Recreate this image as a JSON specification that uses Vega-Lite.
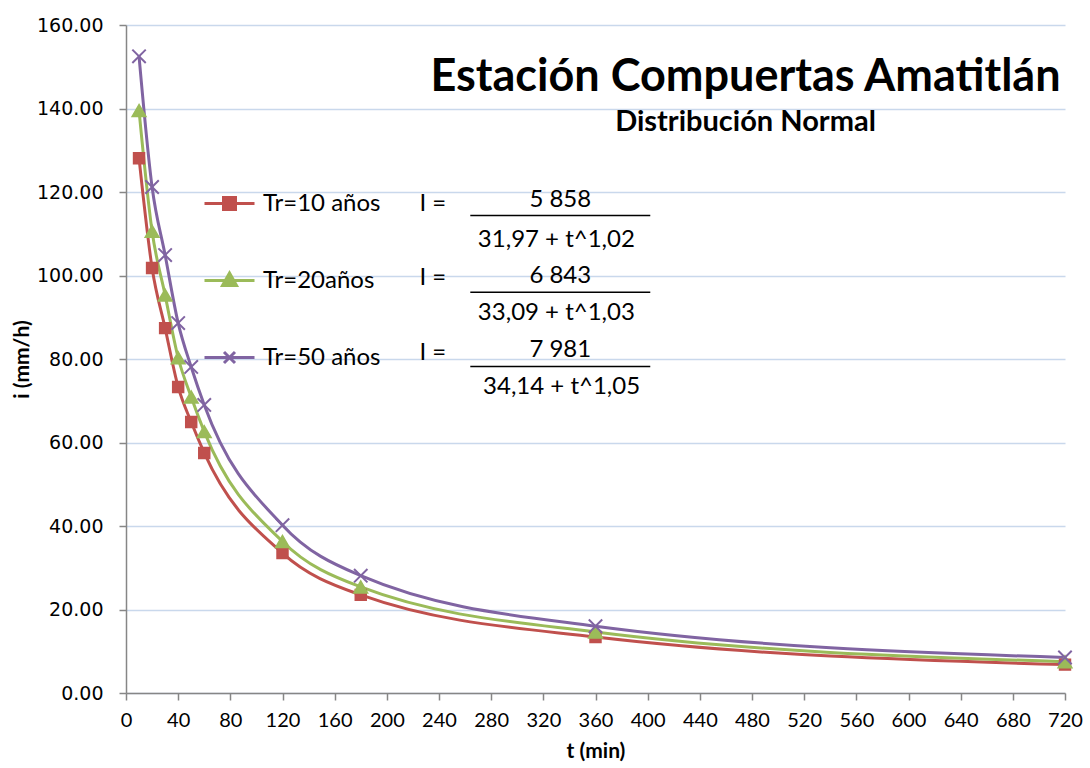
{
  "$schema": "https://vega.github.io/schema/vega-lite/v6.json",
  "width": 939,
  "height": 668,
  "autosize": "none",
  "padding": {"left": 126, "top": 25, "right": 25, "bottom": 75},
  "background": "white",
  "config": {
    "view": {"stroke": null},
    "font": "Lato",
    "axisX": {
      "grid": false,
      "domainColor": "#868686",
      "domainWidth": 1.5,
      "tickColor": "#868686",
      "tickWidth": 1.5,
      "tickSize": 7,
      "labelFont": "Lato",
      "labelFontSize": 20,
      "labelColor": "black",
      "labelPadding": 10,
      "labelFlush": false,
      "titleFont": "Lato",
      "titleFontSize": 21,
      "titleFontWeight": "bold",
      "titleColor": "black",
      "titlePadding": 10
    },
    "axisY": {
      "grid": true,
      "gridColor": "#C9D8EC",
      "gridWidth": 1.5,
      "domainColor": "#868686",
      "domainWidth": 1.5,
      "tickColor": "#868686",
      "tickWidth": 1.5,
      "tickSize": 7,
      "labelFont": "DejaVu Sans",
      "labelFontSize": 19,
      "labelColor": "black",
      "labelPadding": 16,
      "titleFont": "Lato",
      "titleFontSize": 21,
      "titleFontWeight": "bold",
      "titleColor": "black",
      "titlePadding": 4
    }
  },
  "title": {
    "text": "Estación Compuertas Amatitlán",
    "subtitle": "Distribución Normal",
    "anchor": "middle",
    "dx": 150,
    "offset": -121,
    "font": "Lato",
    "fontSize": 45,
    "fontWeight": "bold",
    "color": "black",
    "subtitleFont": "Lato",
    "subtitleFontSize": 29,
    "subtitleFontWeight": "bold",
    "subtitleColor": "black",
    "subtitlePadding": 8
  },
  "data": {
    "values": [
      {"t": 10, "i": 128.1, "serie": "Tr=10 años"},
      {"t": 20, "i": 101.8, "serie": "Tr=10 años"},
      {"t": 30, "i": 87.4, "serie": "Tr=10 años"},
      {"t": 40, "i": 73.3, "serie": "Tr=10 años"},
      {"t": 50, "i": 64.9, "serie": "Tr=10 años"},
      {"t": 60, "i": 57.5, "serie": "Tr=10 años"},
      {"t": 120, "i": 33.5, "serie": "Tr=10 años"},
      {"t": 180, "i": 23.5, "serie": "Tr=10 años"},
      {"t": 360, "i": 13.4, "serie": "Tr=10 años"},
      {"t": 720, "i": 6.8, "serie": "Tr=10 años"},
      {"t": 10, "i": 139.5, "serie": "Tr=20años"},
      {"t": 20, "i": 110.6, "serie": "Tr=20años"},
      {"t": 30, "i": 95.3, "serie": "Tr=20años"},
      {"t": 40, "i": 80.3, "serie": "Tr=20años"},
      {"t": 50, "i": 70.9, "serie": "Tr=20años"},
      {"t": 60, "i": 62.6, "serie": "Tr=20años"},
      {"t": 120, "i": 36.3, "serie": "Tr=20años"},
      {"t": 180, "i": 25.4, "serie": "Tr=20años"},
      {"t": 360, "i": 14.6, "serie": "Tr=20años"},
      {"t": 720, "i": 7.5, "serie": "Tr=20años"},
      {"t": 10, "i": 152.5, "serie": "Tr=50 años"},
      {"t": 20, "i": 121.2, "serie": "Tr=50 años"},
      {"t": 30, "i": 104.9, "serie": "Tr=50 años"},
      {"t": 40, "i": 88.6, "serie": "Tr=50 años"},
      {"t": 50, "i": 78.1, "serie": "Tr=50 años"},
      {"t": 60, "i": 69.0, "serie": "Tr=50 años"},
      {"t": 120, "i": 40.2, "serie": "Tr=50 años"},
      {"t": 180, "i": 28.1, "serie": "Tr=50 años"},
      {"t": 360, "i": 16.0, "serie": "Tr=50 años"},
      {"t": 720, "i": 8.5, "serie": "Tr=50 años"}
    ]
  },
  "layer": [
    {
      "encoding": {
        "x": {
          "field": "t",
          "type": "quantitative",
          "title": "t (min)",
          "scale": {"domain": [0, 720], "nice": false, "zero": true},
          "axis": {"values": [0, 40, 80, 120, 160, 200, 240, 280, 320, 360, 400, 440, 480, 520, 560, 600, 640, 680, 720]}
        },
        "y": {
          "field": "i",
          "type": "quantitative",
          "title": "i (mm/h)",
          "scale": {"domain": [0, 160], "nice": false},
          "axis": {"values": [0, 20, 40, 60, 80, 100, 120, 140, 160], "format": ".2f"}
        }
      },
      "layer": [
        {
          "mark": {"type": "line", "interpolate": "monotone", "strokeWidth": 3},
          "encoding": {
            "color": {
              "field": "serie",
              "type": "nominal",
              "scale": {"domain": ["Tr=10 años", "Tr=20años", "Tr=50 años"], "range": ["#C0504D", "#9BBB59", "#8064A2"]},
              "legend": {
                "orient": "none",
                "legendX": 77,
                "legendY": 152,
                "title": null,
                "labelFont": "Lato",
                "labelFontSize": 24,
                "labelColor": "black",
                "rowPadding": 38,
                "labelOffset": 7,
                "symbolSize": 2500,
                "symbolStrokeWidth": 3,
                "encode": {
                  "symbols": {
                    "update": {
                      "shape": {"signal": "datum.value === 'Tr=10 años' ? 'M-1,0H1M-0.24,-0.24H0.24V0.24H-0.24Z' : (datum.value === 'Tr=20años' ? 'M-1,0H1M0,-0.3L0.28,0.2H-0.28Z' : 'M-1,0H1M-0.22,-0.22L0.22,0.22M-0.22,0.22L0.22,-0.22')"},
                      "fill": {"signal": "datum.value === 'Tr=10 años' ? '#C0504D' : (datum.value === 'Tr=20años' ? '#9BBB59' : 'transparent')"},
                      "stroke": {"signal": "datum.value === 'Tr=10 años' ? '#C0504D' : (datum.value === 'Tr=20años' ? '#9BBB59' : '#8064A2')"},
                      "strokeWidth": {"value": 3},
                      "size": {"value": 2500},
                      "opacity": {"value": 1}
                    }
                  }
                }
              }
            }
          }
        },
        {
          "transform": [{"filter": "datum.serie === 'Tr=10 años'"}],
          "mark": {"type": "point", "shape": "square", "filled": true, "opacity": 1, "color": "#C0504D", "stroke": "#C0504D", "strokeWidth": 1.5, "size": 120}
        },
        {
          "transform": [{"filter": "datum.serie === 'Tr=20años'"}],
          "mark": {"type": "point", "shape": "triangle-up", "filled": true, "opacity": 1, "color": "#9BBB59", "stroke": "#9BBB59", "strokeWidth": 1.5, "size": 190}
        },
        {
          "transform": [{"filter": "datum.serie === 'Tr=50 años'"}],
          "mark": {"type": "point", "shape": "M-1,-1L1,1M-1,1L1,-1", "filled": false, "opacity": 1, "color": "#8064A2", "stroke": "#8064A2", "strokeWidth": 2, "size": 180}
        }
      ]
    },
    {
      "data": {"values": [{}]},
      "mark": {"type": "text", "align": "left", "baseline": "middle", "font": "Lato", "fontSize": 24, "color": "black"},
      "encoding": {"x": {"datum": 225, "type": "quantitative", "title": "t (min)"}, "y": {"datum": 117.2, "type": "quantitative", "title": "i (mm/h)"}, "text": {"value": "I ="}}
    },
    {
      "data": {"values": [{}]},
      "mark": {"type": "text", "align": "left", "baseline": "middle", "font": "Lato", "fontSize": 24, "color": "black"},
      "encoding": {"x": {"datum": 225, "type": "quantitative", "title": "t (min)"}, "y": {"datum": 99.4, "type": "quantitative", "title": "i (mm/h)"}, "text": {"value": "I ="}}
    },
    {
      "data": {"values": [{}]},
      "mark": {"type": "text", "align": "left", "baseline": "middle", "font": "Lato", "fontSize": 24, "color": "black"},
      "encoding": {"x": {"datum": 225, "type": "quantitative", "title": "t (min)"}, "y": {"datum": 81.5, "type": "quantitative", "title": "i (mm/h)"}, "text": {"value": "I ="}}
    },
    {
      "data": {"values": [{}]},
      "mark": {"type": "text", "align": "center", "baseline": "middle", "font": "Lato", "fontSize": 24, "color": "black"},
      "encoding": {"x": {"datum": 333, "type": "quantitative", "title": "t (min)"}, "y": {"datum": 118.0, "type": "quantitative", "title": "i (mm/h)"}, "text": {"value": "5 858"}}
    },
    {
      "data": {"values": [{}]},
      "mark": {"type": "text", "align": "center", "baseline": "middle", "font": "Lato", "fontSize": 24, "color": "black"},
      "encoding": {"x": {"datum": 333, "type": "quantitative", "title": "t (min)"}, "y": {"datum": 100.0, "type": "quantitative", "title": "i (mm/h)"}, "text": {"value": "6 843"}}
    },
    {
      "data": {"values": [{}]},
      "mark": {"type": "text", "align": "center", "baseline": "middle", "font": "Lato", "fontSize": 24, "color": "black"},
      "encoding": {"x": {"datum": 333, "type": "quantitative", "title": "t (min)"}, "y": {"datum": 82.2, "type": "quantitative", "title": "i (mm/h)"}, "text": {"value": "7 981"}}
    },
    {
      "data": {"values": [{}]},
      "mark": {"type": "text", "align": "center", "baseline": "middle", "font": "Lato", "fontSize": 24, "color": "black"},
      "encoding": {"x": {"datum": 330, "type": "quantitative", "title": "t (min)"}, "y": {"datum": 108.6, "type": "quantitative", "title": "i (mm/h)"}, "text": {"value": "31,97 + t^1,02"}}
    },
    {
      "data": {"values": [{}]},
      "mark": {"type": "text", "align": "center", "baseline": "middle", "font": "Lato", "fontSize": 24, "color": "black"},
      "encoding": {"x": {"datum": 330, "type": "quantitative", "title": "t (min)"}, "y": {"datum": 91.0, "type": "quantitative", "title": "i (mm/h)"}, "text": {"value": "33,09 + t^1,03"}}
    },
    {
      "data": {"values": [{}]},
      "mark": {"type": "text", "align": "center", "baseline": "middle", "font": "Lato", "fontSize": 24, "color": "black"},
      "encoding": {"x": {"datum": 334, "type": "quantitative", "title": "t (min)"}, "y": {"datum": 73.2, "type": "quantitative", "title": "i (mm/h)"}, "text": {"value": "34,14 + t^1,05"}}
    },
    {
      "data": {"values": [{}]},
      "mark": {"type": "rule", "color": "black", "strokeWidth": 1.5},
      "encoding": {"x": {"datum": 264, "type": "quantitative", "title": "t (min)"}, "x2": {"datum": 402}, "y": {"datum": 114.4, "type": "quantitative", "title": "i (mm/h)"}}
    },
    {
      "data": {"values": [{}]},
      "mark": {"type": "rule", "color": "black", "strokeWidth": 1.5},
      "encoding": {"x": {"datum": 264, "type": "quantitative", "title": "t (min)"}, "x2": {"datum": 402}, "y": {"datum": 96.0, "type": "quantitative", "title": "i (mm/h)"}}
    },
    {
      "data": {"values": [{}]},
      "mark": {"type": "rule", "color": "black", "strokeWidth": 1.5},
      "encoding": {"x": {"datum": 264, "type": "quantitative", "title": "t (min)"}, "x2": {"datum": 402}, "y": {"datum": 78.2, "type": "quantitative", "title": "i (mm/h)"}}
    }
  ]
}
